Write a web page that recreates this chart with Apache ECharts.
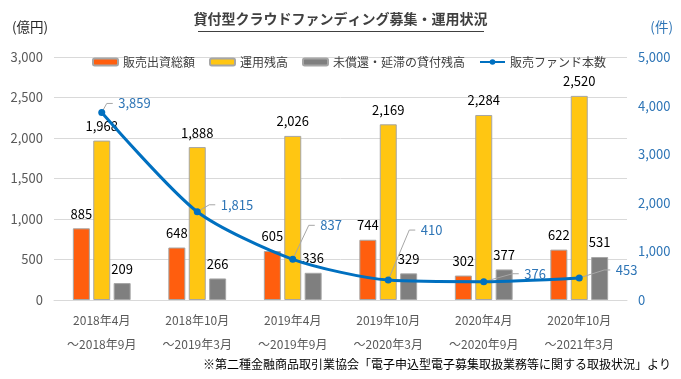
<!DOCTYPE html>
<html><head><meta charset="utf-8">
<script src="https://cdn.jsdelivr.net/npm/echarts@6/dist/echarts.min.js"></script>
<style>html,body{margin:0;padding:0;background:#fff}#c{width:681px;height:379px}</style>
</head><body><div id="c"></div>
<script>
const categories = ['2018年4月\n～2018年9月','2018年10月\n～2019年3月','2019年4月\n～2019年9月','2019年10月\n～2020年3月','2020年4月\n～2020年9月','2020年10月\n～2021年3月'];
const salesInvest = [885, 648, 605, 744, 302, 622];
const operBalance = [1968, 1888, 2026, 2169, 2284, 2520];
const unredeemed = [209, 266, 336, 329, 377, 531];
const fundCount = [3859, 1815, 837, 410, 376, 453];
const leftTicks = [0, 500, 1000, 1500, 2000, 2500, 3000];
const rightTicks = [0, 1000, 2000, 3000, 4000, 5000];
const seriesNames = ['販売出資総額','運用残高','未償還・延滞の貸付残高','販売ファンド本数'];
const labelOffsets = [[8,-9],[15,-7],[19,-34],[24,-50],[32,-8],[28,-8]];

const FONT = '"Noto Sans CJK JP", sans-serif';
const fmt = v => v.toLocaleString('en-US');
const chart = echarts.init(document.getElementById('c'));
const barLabel = {show:true, position:'top', distance:8, color:'#000', fontSize:13, fontFamily:FONT, formatter:p=>fmt(p.value)};
const barCommon = {type:'bar', barWidth:17, barGap:'20%', label:barLabel};
chart.setOption({
  animation:false,
  textStyle:{fontFamily:FONT},
  grid:{left:54, right:54, top:57, bottom:79},
  legend:{top:51, left:87, itemWidth:25, itemHeight:7, itemGap:14,
    textStyle:{fontSize:12, color:'#404040', fontFamily:FONT},
    data:seriesNames},
  xAxis:{type:'category', data:categories,
    axisLine:{lineStyle:{color:'#D9D9D9'}},
    axisTick:{length:5, lineStyle:{color:'#D9D9D9'}},
    axisLabel:{color:'#595959', fontSize:12, lineHeight:24, margin:8, fontFamily:FONT}},
  yAxis:[
    {type:'value', min:leftTicks[0], max:leftTicks[leftTicks.length-1], interval:500,
     axisLabel:{color:'#595959', fontSize:13, margin:11, formatter:v=>fmt(v), fontFamily:FONT},
     splitLine:{lineStyle:{color:'#D9D9D9'}}, axisLine:{show:false}, axisTick:{show:false}},
    {type:'value', min:rightTicks[0], max:rightTicks[rightTicks.length-1], interval:1000,
     axisLabel:{color:'#2E75B6', fontSize:13, margin:11, formatter:v=>fmt(v), fontFamily:FONT},
     splitLine:{show:false}, axisLine:{show:false}, axisTick:{show:false}}
  ],
  series:[
    Object.assign({}, barCommon, {name:seriesNames[0], data:salesInvest,
      itemStyle:{color:'#FF5E0E', borderColor:'#A6A6A6', borderWidth:1}}),
    Object.assign({}, barCommon, {name:seriesNames[1], data:operBalance,
      itemStyle:{color:'#FFC612', borderColor:'#A6A6A6', borderWidth:1}}),
    Object.assign({}, barCommon, {name:seriesNames[2], data:unredeemed,
      itemStyle:{color:'#7F7F7F', borderColor:'#A6A6A6', borderWidth:1}}),
    {type:'custom', name:'leader', xAxisIndex:0, yAxisIndex:1, z:3, silent:true,
     data:fundCount.map((v,i)=>[i,v]),
     renderItem:function(params, api){
       const pt = api.coord([api.value(0), api.value(1)]);
       const o = labelOffsets[params.dataIndex];
       const lx = pt[0]+5+o[0], ly = pt[1]+o[1];
       return {type:'polyline', shape:{points:[pt,[lx-8,ly],[lx-2,ly]]},
         style:{stroke:'#A6A6A6', lineWidth:1, fill:null}};
     }},
    {type:'line', name:seriesNames[3], yAxisIndex:1, data:fundCount, smooth:0.25, z:4,
     symbol:'circle', symbolSize:7,
     lineStyle:{color:'#0070C0', width:3}, itemStyle:{color:'#0070C0'},
     label:{show:true, position:'right', distance:5, color:'#2E75B6', fontSize:13, fontFamily:FONT, formatter:p=>fmt(p.value)},
     labelLayout:function(p){const o=labelOffsets[p.dataIndex]; return {dx:o[0], dy:o[1]};}}
  ],
  graphic:[
    {type:'text', left:'center', top:12, style:{text:'貸付型クラウドファンディング募集・運用状況', fill:'#404040', font:'bold 14px "Noto Sans CJK JP"'}},
    {type:'rect', shape:{x:198, y:31, width:286, height:1}, style:{fill:'#404040'}},
    {type:'text', left:12, top:20, style:{text:'(億円)', fill:'#262626', font:'13.5px "Noto Sans CJK JP"'}},
    {type:'text', right:8, top:20, style:{text:'(件)', fill:'#2E75B6', font:'13.5px "Noto Sans CJK JP"'}},
    {type:'text', right:10, top:358, style:{text:'※第二種金融商品取引業協会「電子申込型電子募集取扱業務等に関する取扱状況」より', fill:'#000', font:'12px "Noto Sans CJK JP"'}}
  ]
});
</script></body></html>
